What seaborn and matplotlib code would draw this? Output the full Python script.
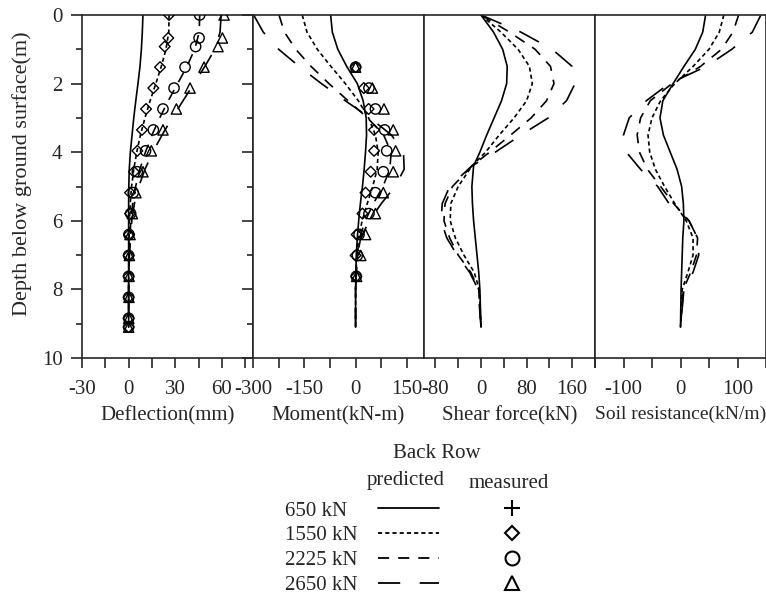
import matplotlib
matplotlib.use("Agg")
import matplotlib.pyplot as plt
from matplotlib.lines import Line2D
from matplotlib.ticker import MultipleLocator
import seaborn as sns

# loads (kN) and their styles
loads = ["650 kN", "1550 kN", "2225 kN", "2650 kN"]

# measured depths (m) - inclinometer readings
depth_meas = [0, 0.67, 0.92, 1.52, 2.13, 2.74, 3.35, 3.96, 4.57, 5.18, 5.79,
              6.40, 7.01, 7.62, 8.23, 8.84, 9.10]
defl_meas_650 = [9.0, 8.8, 8.2, 6.0, 3.9, 3.4, 1.9, 1.3, 1.3, -0.2, 0.0, 0, 0, 0, 0, 0, 0]
defl_meas_1550 = [26.0, 25.5, 23.2, 20.2, 15.9, 11.2, 8.6, 5.6, 3.4, 0.9, 0.9, 0.3, 0, 0, 0, 0, 0]
defl_meas_2225 = [45.7, 45.3, 43.1, 36.3, 29.2, 22.1, 15.9, 10.9, 5.6, 3.0, 1.3, 0.2, 0, 0, 0, 0, 0]
defl_meas_2650 = [61.4, 60.3, 57.5, 48.5, 39.5, 30.7, 22.1, 14.6, 9.2, 4.7, 2.4, 0.9, 0.5, 0.3, 0.2, 0.1, 0]

# measured moments (kN-m)
mom_depth_meas = [1.52, 2.13, 2.74, 3.35, 3.96, 4.57, 5.18, 5.79, 6.40, 7.01, 7.62]
mom_meas_650 = [0, 10, 29, 22, 15, 10, 5, 5, 0, -5, 0]
mom_meas_1550 = [0, 24, 38, 54, 54, 44, 29, 20, 3, 0, 2]
mom_meas_2225 = [0, 39, 58, 85, 91, 81, 58, 39, 10, 5, 2]
mom_meas_2650 = [0, 49, 83, 110, 117, 110, 81, 58, 29, 15, 3]

# predicted deflection (mm)
defl_depth = [0, 0.5, 1.0, 1.5, 2.0, 2.5, 3.0, 3.5, 4.0, 4.5, 5.0, 5.5, 6.0, 7.0, 8.0, 9.1]
defl_pred_650 = [9.2, 8.8, 8.2, 7.3, 6.0, 4.6, 3.3, 2.2, 1.1, 0.4, 0.1, 0, 0, 0, 0, 0]
defl_pred_1550 = [26, 25.8, 24, 21, 17.5, 13.8, 10.5, 7.6, 5.2, 3.3, 1.9, 1.0, 0.5, 0.1, 0, 0]
defl_pred_2225 = [45.7, 45.4, 42.5, 37.5, 31.5, 25.5, 20, 15, 10.8, 7.2, 4.5, 2.6, 1.4, 0.3, 0, 0]
defl_pred_2650 = [59.5, 58.8, 55.5, 49, 42, 35, 28, 21.5, 15.5, 10.5, 6.5, 3.7, 2.0, 0.5, 0, 0]

# predicted moment (kN-m)
mom_depth = [0, 0.5, 1.0, 1.5, 2.0, 2.5, 3.0, 3.5, 4.0, 4.5, 5.0, 5.5, 6.0, 6.5, 7.0, 8.0, 9.1]
mom_pred_650 = [-73, -68, -52, -26, 5, 22, 31, 32, 29, 25, 20, 14, 9, 5, 2, 0, 0]
mom_pred_1550 = [-156, -142, -112, -72, -30, 8, 38, 58, 66, 63, 50, 34, 19, 9, 3, 0, 0]
mom_pred_2225 = [-224, -208, -175, -130, -78, -22, 35, 82, 104, 100, 80, 52, 28, 12, 4, 0, 0]
mom_pred_2650 = [-298, -270, -225, -165, -100, -30, 42, 105, 140, 142, 115, 75, 40, 15, 5, 0, 0]

# predicted shear force (kN)
shear_depth = [0, 0.5, 1.0, 1.5, 2.0, 2.5, 3.0, 3.5, 4.0, 4.4, 5.0, 5.5, 6.0, 6.5, 7.0, 7.5, 8.0, 9.1]
shear_pred_650 = [0, 22, 38, 46, 45, 36, 23, 10, -2, -13, -16, -15, -13, -10, -7, -4, -2, 0]
shear_pred_1550 = [0, 35, 65, 85, 90, 80, 58, 32, 8, -16, -40, -53, -54, -45, -30, -12, -3, 0]
shear_pred_2225 = [0, 50, 95, 122, 128, 115, 88, 52, 15, -16, -50, -63, -65, -55, -40, -18, -4, 0]
shear_pred_2650 = [0, 70, 125, 160, 165, 150, 118, 70, 25, -16, -55, -68, -70, -60, -42, -20, -5, 0]

# predicted soil resistance (kN/m)
soil_depth = [0, 0.5, 1.0, 1.5, 2.0, 2.5, 3.0, 3.5, 4.0, 4.5, 5.0, 5.5, 6.0, 6.5, 7.0, 7.5, 8.0, 9.1]
soil_pred_650 = [44, 39, 26, 6, -13, -31, -36, -30, -18, -6, 2, 5, 6, 4, 3, 2, 1, 0]
soil_pred_1550 = [76, 68, 50, 22, -10, -35, -50, -57, -54, -44, -28, -10, 10, 22, 22, 13, 3, 0]
soil_pred_2225 = [102, 92, 72, 35, -15, -53, -70, -76, -72, -58, -35, -12, 15, 30, 28, 18, 5, 0]
soil_pred_2650 = [141, 126, 90, 45, -20, -60, -90, -100, -95, -70, -40, -20, 15, 30, 32, 22, 6, 0]

sns.set_style("ticks")
plt.rcParams["font.family"] = ["Liberation Serif", "DejaVu Serif"]
plt.rcParams["font.size"] = 15
plt.rcParams["lines.scale_dashes"] = False
plt.rcParams["axes.unicode_minus"] = False

line_styles = ["-", (0, (3, 2.2)), (0, (8, 6.5)), (0, (16, 14))]
markers = ["+", "D", "o", "^"]
marker_size = [70, 30, 55, 55]

fig = plt.figure(figsize=(7.66, 5.98), dpi=100)
W, H = 766, 598
lefts = [82, 253, 424, 595]
axes = [fig.add_axes([l / W, 1 - 358 / H, 171 / W, 343 / H]) for l in lefts]

panels = [
    (defl_depth, [defl_pred_650, defl_pred_1550, defl_pred_2225, defl_pred_2650]),
    (mom_depth, [mom_pred_650, mom_pred_1550, mom_pred_2225, mom_pred_2650]),
    (shear_depth, [shear_pred_650, shear_pred_1550, shear_pred_2225, shear_pred_2650]),
    (soil_depth, [soil_pred_650, soil_pred_1550, soil_pred_2225, soil_pred_2650]),
]
for ax, (dep, series) in zip(axes, panels):
    for vals, ls in zip(series, line_styles):
        sns.lineplot(x=vals, y=dep, orient="y", estimator=None, ax=ax,
                     color="black", linewidth=1.2, linestyle=ls)

meas = [
    (axes[0], depth_meas, [defl_meas_650, defl_meas_1550, defl_meas_2225, defl_meas_2650]),
    (axes[1], mom_depth_meas, [mom_meas_650, mom_meas_1550, mom_meas_2225, mom_meas_2650]),
]
for ax, dep, series in meas:
    for vals, m, s in zip(series, markers, marker_size):
        sns.scatterplot(x=vals, y=dep, ax=ax, marker=m, s=s, color="black",
                        facecolor="none", edgecolor="black", linewidth=1.0, zorder=3)

xlims = [(-30, 80), (-300, 200), (-100, 200), (-150, 150)]
majors = [30, 150, 80, 100]
minors = [15, 75, 40, 50]
xlabels = ["Deflection(mm)", "Moment(kN-m)", "Shear force(kN)", "Soil resistance(kN/m)"]
label_sizes = [15, 15, 15, 14]
for i, ax in enumerate(axes):
    ax.set_xlim(*xlims[i])
    ax.set_ylim(10, 0)
    ax.xaxis.set_major_locator(MultipleLocator(majors[i]))
    ax.xaxis.set_minor_locator(MultipleLocator(minors[i]))
    ax.tick_params(axis="x", which="both", direction="out", length=7, width=1.2,
                   pad=9, labelsize=15)
    ax.set_xlabel(xlabels[i], fontsize=label_sizes[i], labelpad=5)
    ax.set_ylabel("")
    for sp in ax.spines.values():
        sp.set_linewidth(1.2)
        sp.set_visible(True)
    ax.yaxis.set_major_locator(MultipleLocator(2))
    ax.yaxis.set_minor_locator(MultipleLocator(1))
    if i == 0:
        ax.tick_params(axis="y", which="major", direction="out", length=8, width=1.2,
                       pad=6, labelsize=15)
        ax.tick_params(axis="y", which="minor", direction="out", length=4.5, width=1.2)
        ax.set_ylabel("Depth below ground surface(m)", fontsize=16)
        ax.yaxis.set_label_coords(-0.29, 0.536)
    elif i == 1:
        ax.tick_params(axis="y", which="major", direction="out", length=8, width=1.2,
                       labelleft=False)
        ax.tick_params(axis="y", which="minor", direction="out", length=4.5, width=1.2)
    else:
        ax.tick_params(axis="y", which="both", left=False, labelleft=False)

# legend
handles = [Line2D([], [], color="black", linewidth=1.3, linestyle=ls) for ls in line_styles]
handles += [Line2D([], [], linestyle="none", marker=m, markersize=ms, markerfacecolor="none",
                   markeredgecolor="black", markeredgewidth=1.5)
            for m, ms in zip(markers, [12, 7.5, 10, 10])]
labels = ["650 kN  ", "1550 kN", "2225 kN", "2650 kN", "", "", "", ""]
fig.legend(handles, labels, ncol=2, markerfirst=False, frameon=False,
           loc="upper left", bbox_to_anchor=(285 / W, 1 - 501 / H),
           borderpad=0, borderaxespad=0, handlelength=2.9, handletextpad=1.0,
           columnspacing=1.05, labelspacing=0.25, fontsize=15)
fig.text(437 / W, 1 - 453 / H, "Back Row", ha="center", va="center", fontsize=15)
fig.text(406 / W, 1 - 480 / H, "predicted", ha="center", va="center", fontsize=15)
fig.text(509 / W, 1 - 483 / H, "measured", ha="center", va="center", fontsize=15)

fig.savefig("out.png", dpi=100)
